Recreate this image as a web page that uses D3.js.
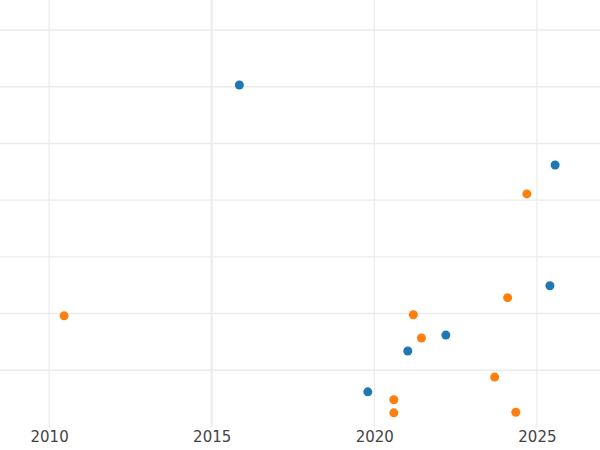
<!DOCTYPE html>
<html lang="en">
<head>
<meta charset="UTF-8">
<script src="https://cdn.jsdelivr.net/npm/d3@7"></script>
<style>
  body { margin: 0; background: #fff; font-family: "DejaVu Sans", sans-serif; }
</style>
</head>
<body>
<div id="chart"></div>
<script>
const xTicks = [2010, 2015, 2020, 2025];
const yTicks = [1, 2, 3, 4, 5, 6, 7];
const blueX = [2015.85, 2025.56, 2025.40, 2022.20, 2021.03, 2019.80];
const blueY = [6.03, 4.62, 2.49, 1.62, 1.34, 0.62];
const orangeX = [2010.46, 2024.69, 2024.10, 2021.20, 2021.45, 2023.70, 2020.60, 2020.60, 2024.35];
const orangeY = [1.96, 4.11, 2.28, 1.98, 1.57, 0.88, 0.48, 0.25, 0.26];

const width = 600, height = 450;
const svg = d3.select("#chart").append("svg").attr("width", width).attr("height", height);

const x = d3.scaleLinear().domain([2008.49, 2026.94]).range([0, 600]);
const y = d3.scaleLinear().domain([0, 7]).range([427, 30]);

svg.append("g").selectAll("line").data(yTicks).join("line")
  .attr("x1", 0).attr("x2", width)
  .attr("y1", d => y(d)).attr("y2", d => y(d))
  .attr("stroke", "#ebebeb").attr("stroke-width", 1.4);

svg.append("g").selectAll("line").data(xTicks).join("line")
  .attr("x1", d => x(d)).attr("x2", d => x(d))
  .attr("y1", 0).attr("y2", 427)
  .attr("stroke", "#ebebeb").attr("stroke-width", d => d === 2015 ? 2 : 1.2);

svg.append("g").attr("transform", "translate(0,431)")
  .call(d3.axisBottom(x).tickValues(xTicks).tickFormat(d3.format("d")).tickSize(0).tickPadding(0))
  .call(g => g.select(".domain").remove())
  .selectAll("text").attr("font-size", 15).attr("fill", "#444").attr("font-family", "DejaVu Sans");

function dots(xs, ys, color) {
  svg.append("g").selectAll("circle").data(xs).join("circle")
    .attr("cx", d => x(d)).attr("cy", (d, i) => y(ys[i]))
    .attr("r", 4.5).attr("fill", color);
}
dots(blueX, blueY, "#1f77b4");
dots(orangeX, orangeY, "#ff7f0e");
</script>
</body>
</html>
